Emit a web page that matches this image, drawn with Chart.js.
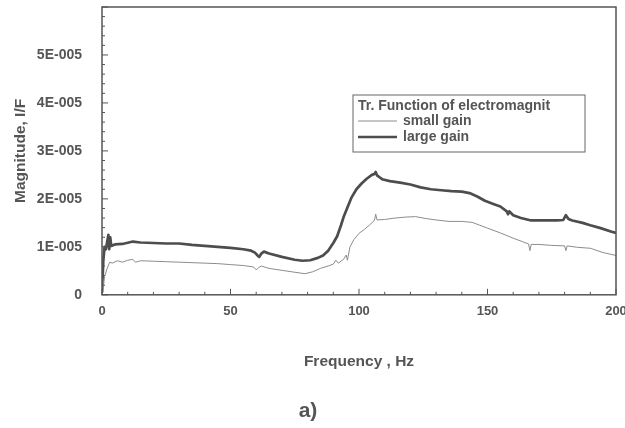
<!DOCTYPE html>
<html lang="en">
<head>
    <meta charset="UTF-8">
    <title>Tr. Function of electromagnit</title>
    <script src="https://cdn.jsdelivr.net/npm/chart.js"></script>
    <style>
        body { margin: 0; background: #fff; }
        #wrap { width: 625px; height: 428px; }
    </style>
</head>
<body>
    <div id="wrap"><canvas id="tfChart"></canvas></div>

    <script>
        // frequency (Hz) and magnitude (I/F)
        const largeFreq = [0, 0.5, 1, 1.5, 2, 2.5, 2.8, 3.2, 3.6, 5, 8, 12, 15, 20, 25, 30, 35, 40, 45, 50,
            55, 58, 59.5, 60.5, 61.2, 62, 63, 65, 70, 75, 78, 81, 84, 86, 88, 90, 91.5, 93, 94, 95.5,
            97, 99, 101, 103, 105, 106, 106.5, 107, 108, 109, 112, 116, 120, 124, 128, 132, 136, 140, 143, 146,
            149, 152, 155, 157.5, 158, 158.5, 160, 163, 167, 172, 177, 179.5, 180.5, 181.5, 183, 187, 190, 194, 198, 200];
        const largeGain = [0.05e-5, 0.7e-5, 1.0e-5, 0.95e-5, 1.1e-5, 1.25e-5, 0.95e-5, 1.2e-5, 1.02e-5, 1.05e-5,
            1.06e-5, 1.11e-5, 1.09e-5, 1.08e-5, 1.07e-5, 1.07e-5, 1.04e-5, 1.02e-5, 1.0e-5, 0.98e-5,
            0.95e-5, 0.92e-5, 0.88e-5, 0.82e-5, 0.79e-5, 0.86e-5, 0.9e-5, 0.86e-5, 0.79e-5, 0.73e-5,
            0.71e-5, 0.72e-5, 0.77e-5, 0.82e-5, 0.92e-5, 1.08e-5, 1.22e-5, 1.45e-5, 1.62e-5, 1.82e-5,
            2.02e-5, 2.2e-5, 2.32e-5, 2.42e-5, 2.5e-5, 2.52e-5, 2.56e-5, 2.49e-5, 2.45e-5, 2.41e-5,
            2.37e-5, 2.34e-5, 2.3e-5, 2.24e-5, 2.2e-5, 2.18e-5, 2.16e-5, 2.15e-5, 2.12e-5, 2.05e-5,
            1.96e-5, 1.9e-5, 1.84e-5, 1.74e-5, 1.68e-5, 1.74e-5, 1.66e-5, 1.6e-5, 1.55e-5, 1.55e-5,
            1.55e-5, 1.56e-5, 1.66e-5, 1.58e-5, 1.55e-5, 1.5e-5, 1.45e-5, 1.39e-5, 1.32e-5, 1.29e-5];

        const smallFreq = [0.3, 1, 2, 3, 4, 6, 8, 10, 12, 13, 15, 20, 25, 30, 35, 40, 45, 50, 55, 59,
            60, 61, 62, 65, 70, 75, 79, 82, 85, 88, 90, 91, 92, 94, 95, 95.5, 96.5, 98, 100, 102,
            104, 106, 106.5, 107, 110, 114, 118, 122, 126, 130, 135, 140, 144, 147, 150, 155, 160, 164, 166, 166.5,
            167, 170, 175, 180, 180.5, 181, 185, 190, 195, 200];
        const smallGain = [0.05e-5, 0.38e-5, 0.55e-5, 0.68e-5, 0.66e-5, 0.71e-5, 0.68e-5, 0.72e-5, 0.74e-5, 0.68e-5,
            0.71e-5, 0.7e-5, 0.69e-5, 0.68e-5, 0.67e-5, 0.66e-5, 0.65e-5, 0.63e-5, 0.61e-5, 0.58e-5,
            0.52e-5, 0.57e-5, 0.6e-5, 0.55e-5, 0.51e-5, 0.47e-5, 0.44e-5, 0.48e-5, 0.55e-5, 0.6e-5,
            0.64e-5, 0.72e-5, 0.66e-5, 0.74e-5, 0.83e-5, 0.72e-5, 1.0e-5, 1.15e-5, 1.28e-5, 1.36e-5,
            1.45e-5, 1.55e-5, 1.68e-5, 1.56e-5, 1.57e-5, 1.6e-5, 1.62e-5, 1.63e-5, 1.59e-5, 1.56e-5,
            1.53e-5, 1.53e-5, 1.51e-5, 1.45e-5, 1.39e-5, 1.29e-5, 1.18e-5, 1.1e-5, 1.06e-5, 0.92e-5,
            1.05e-5, 1.05e-5, 1.03e-5, 1.02e-5, 0.92e-5, 1.02e-5, 0.99e-5, 0.97e-5, 0.88e-5, 0.82e-5];

        const legendTitle = 'Tr. Function of electromagnit';
        const xTicks = [0, 50, 100, 150, 200];
        const yTicks = [0, 1e-5, 2e-5, 3e-5, 4e-5, 5e-5];

        const ink = '#555555';
        const fontFam = '"Liberation Sans", Arial, sans-serif';

        function pairs(xs, ys) {
            return xs.map((x, i) => ({ x: x, y: ys[i] }));
        }

        // inward ticks, top/right frame and the boxed legend
        const framePlugin = {
            id: 'frame',
            afterDraw(chart) {
                const ctx = chart.ctx;
                const a = chart.chartArea;
                const xs = chart.scales.x, ys = chart.scales.y;
                ctx.save();
                ctx.strokeStyle = ink;
                ctx.lineWidth = 1.5;
                ctx.strokeRect(a.left, a.top, a.right - a.left, a.bottom - a.top);

                ctx.lineWidth = 1;
                ctx.beginPath();
                for (let v = 0; v <= 200; v += 10) {
                    const px = xs.getPixelForValue(v);
                    const len = v % 50 === 0 ? 6 : 3;
                    ctx.moveTo(px, a.bottom);
                    ctx.lineTo(px, a.bottom - len);
                }
                for (let k = 0; k <= 30; k++) {
                    const py = ys.getPixelForValue(k * 2e-6);
                    const len = k % 5 === 0 ? 6 : 3;
                    ctx.moveTo(a.left, py);
                    ctx.lineTo(a.left + len, py);
                }
                ctx.stroke();

                // legend box
                const bx = 353, by = 95, bw = 232, bh = 57;
                ctx.lineWidth = 1;
                ctx.strokeStyle = '#666';
                ctx.strokeRect(bx, by, bw, bh);
                ctx.fillStyle = ink;
                ctx.font = 'bold 14px ' + fontFam;
                ctx.textBaseline = 'middle';
                ctx.fillText(legendTitle, bx + 5, by + 11);
                chart.data.datasets.forEach((ds, i) => {
                    const ly = by + 26 + i * 16;
                    ctx.strokeStyle = ds.borderColor;
                    ctx.lineWidth = ds.borderWidth;
                    ctx.beginPath();
                    ctx.moveTo(bx + 5, ly);
                    ctx.lineTo(bx + 44, ly);
                    ctx.stroke();
                    ctx.fillText(ds.label, bx + 50, ly);
                });
                ctx.restore();
            }
        };

        const ctx = document.getElementById('tfChart').getContext('2d');
        const tfChart = new Chart(ctx, {
            type: 'line',
            data: {
                datasets: [
                    {
                        label: 'small gain',
                        data: pairs(smallFreq, smallGain),
                        borderColor: '#8c8c8c',
                        borderWidth: 1,
                        pointRadius: 0,
                        fill: false
                    },
                    {
                        label: 'large gain',
                        data: pairs(largeFreq, largeGain),
                        borderColor: '#4d4d4d',
                        borderWidth: 2.7,
                        borderJoinStyle: 'round',
                        pointRadius: 0,
                        fill: false
                    }
                ]
            },
            options: {
                responsive: true,
                maintainAspectRatio: false,
                animation: false,
                layout: { padding: { top: 7, right: 9, left: 0, bottom: 0 } },
                plugins: {
                    legend: { display: false },
                    tooltip: { enabled: false },
                    title: {
                        display: true,
                        position: 'bottom',
                        text: 'a)',
                        color: ink,
                        font: { family: fontFam, size: 21, weight: 'bold' },
                        padding: { top: 0, bottom: 4 }
                    }
                },
                scales: {
                    x: {
                        type: 'linear',
                        min: 0,
                        max: 200,
                        afterBuildTicks: s => { s.ticks = xTicks.map(v => ({ value: v })); },
                        afterFit: s => {
                            s.height = 104;
                            s.paddingLeft = 0;
                            s.paddingRight = 0;
                        },
                        grid: { display: false, drawTicks: false },
                        border: { display: false },
                        ticks: {
                            color: ink,
                            padding: 9,
                            font: { family: fontFam, size: 13, weight: 'bold' }
                        },
                        title: {
                            display: true,
                            text: 'Frequency , Hz',
                            color: ink,
                            padding: { top: 0, bottom: 28 },
                            font: { family: fontFam, size: 15.5, weight: 'bold' }
                        }
                    },
                    y: {
                        min: 0,
                        max: 6e-5,
                        afterBuildTicks: s => { s.ticks = yTicks.map(v => ({ value: v })); },
                        afterFit: s => {
                            s.width = 102;
                            s.paddingTop = 0;
                            s.paddingBottom = 0;
                        },
                        grid: { display: false, drawTicks: false },
                        border: { display: false },
                        ticks: {
                            color: ink,
                            padding: 20,
                            font: { family: fontFam, size: 14, weight: 'bold' },
                            callback: v => {
                                const n = Math.round(v * 1e5);
                                return n === 0 ? '0' : n + 'E-005';
                            }
                        },
                        title: {
                            display: true,
                            text: 'Magnitude, I/F',
                            color: ink,
                            padding: { top: 11, bottom: 0 },
                            font: { family: fontFam, size: 15.5, weight: 'bold' }
                        }
                    }
                }
            },
            plugins: [framePlugin]
        });
    </script>
</body>
</html>
